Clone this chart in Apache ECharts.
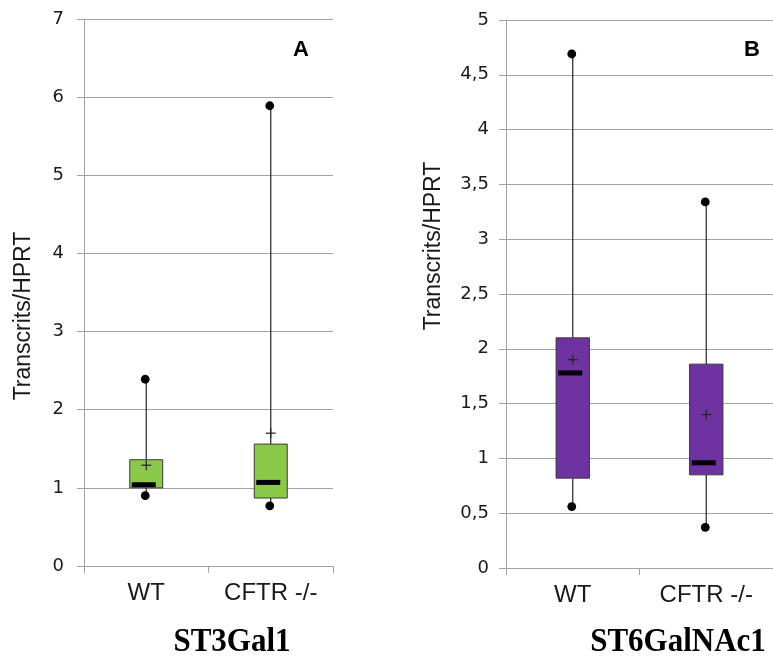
<!DOCTYPE html>
<html>
<head>
<meta charset="utf-8">
<script src="https://cdn.jsdelivr.net/npm/echarts@6/dist/echarts.min.js"></script>
<style>html,body{margin:0;padding:0;background:#fff}#c{width:773px;height:659px}</style>
</head>
<body>
<div id="c"></div>
<script>
// ---- data ----
var categories = ['WT', 'CFTR -/-'];
// Panel A : ST3Gal1
var st3Min    = [0.90, 0.77];
var st3Q1     = [1.00, 0.87];
var st3Median = [1.04, 1.07];
var st3Q3     = [1.36, 1.56];
var st3Max    = [2.39, 5.89];
var st3Mean   = [1.29, 1.70];
// Panel B : ST6GalNAc1
var st6Min    = [0.56, 0.37];
var st6Q1     = [0.82, 0.85];
var st6Median = [1.78, 0.96];
var st6Q3     = [2.10, 1.86];
var st6Max    = [4.69, 3.34];
var st6Mean   = [1.90, 1.40];
var yTicksA = [0, 1, 2, 3, 4, 5, 6, 7];
var yTicksB = [0, 0.5, 1, 1.5, 2, 2.5, 3, 3.5, 4, 4.5, 5];

function rows(mn, q1, md, q3, mx, me) {
  return categories.map(function (c, i) { return [i, mn[i], q1[i], md[i], q3[i], mx[i], me[i]]; });
}

function makeRender(fill, factor) {
  return function (params, api) {
    var i = api.value(0);
    var pMin = api.coord([i, api.value(1)]);
    var pQ1 = api.coord([i, api.value(2)]);
    var pMed = api.coord([i, api.value(3)]);
    var pQ3 = api.coord([i, api.value(4)]);
    var pMax = api.coord([i, api.value(5)]);
    var pMean = api.coord([i, api.value(6)]);
    var cx = pQ1[0];
    var bw = api.size([1, 0])[0] * factor;
    var lineStyle = { stroke: '#222', lineWidth: 1.2 };
    return {
      type: 'group',
      children: [
        { type: 'line', shape: { x1: cx, y1: pMax[1], x2: cx, y2: pQ3[1] }, style: lineStyle },
        { type: 'line', shape: { x1: cx, y1: pQ1[1], x2: cx, y2: pMin[1] }, style: lineStyle },
        { type: 'rect', shape: { x: cx - bw / 2, y: pQ3[1], width: bw, height: pQ1[1] - pQ3[1] },
          style: { fill: fill, stroke: '#3a3a3a', lineWidth: 1 } },
        { type: 'rect', shape: { x: cx - 14.5, y: pMed[1] - 2.5, width: 24, height: 5 }, style: { fill: '#000' } },
        { type: 'line', shape: { x1: cx - 5, y1: pMean[1], x2: cx + 5, y2: pMean[1] }, style: { stroke: '#222', lineWidth: 1.2 } },
        { type: 'line', shape: { x1: cx, y1: pMean[1] - 5, x2: cx, y2: pMean[1] + 5 }, style: { stroke: '#222', lineWidth: 1.2 } },
        { type: 'circle', shape: { cx: cx - 1, cy: pMax[1], r: 4.4 }, style: { fill: '#000' } },
        { type: 'circle', shape: { cx: cx - 1, cy: pMin[1], r: 4.4 }, style: { fill: '#000' } }
      ]
    };
  };
}

var gridColor = '#a3a3a3';
function yAxisCfg(gridIndex, ticks, interval, margin) {
  return {
    type: 'value', gridIndex: gridIndex, min: ticks[0], max: ticks[ticks.length - 1], interval: interval,
    axisLine: { show: true, lineStyle: { color: gridColor, width: 1 } },
    axisTick: { show: true, length: 7, lineStyle: { color: gridColor } },
    splitLine: { show: true, lineStyle: { color: gridColor, width: 1 } },
    axisLabel: { margin: margin, color: '#1a1a1a', fontFamily: 'DejaVu Sans', fontSize: 18,
      formatter: function (v) { return String(v).replace('.', ','); } }
  };
}
function xAxisCfg(gridIndex) {
  return {
    type: 'category', gridIndex: gridIndex, data: categories, boundaryGap: true,
    axisLine: { show: true, lineStyle: { color: gridColor, width: 1 } },
    axisTick: { show: true, length: 7, lineStyle: { color: gridColor } },
    axisLabel: { margin: 15, color: '#1a1a1a', fontFamily: 'Liberation Sans', fontSize: 24 }
  };
}

var chart = echarts.init(document.getElementById('c'), null, { renderer: 'canvas' });
chart.setOption({
  animation: false,
  backgroundColor: '#fff',
  grid: [
    { left: 84, top: 19, width: 249, height: 547 },
    { left: 506, top: 20, width: 278, height: 548 }
  ],
  xAxis: [xAxisCfg(0), xAxisCfg(1)],
  yAxis: [yAxisCfg(0, yTicksA, 1, 20), yAxisCfg(1, yTicksB, 0.5, 17)],
  series: [
    { type: 'custom', xAxisIndex: 0, yAxisIndex: 0, renderItem: makeRender('#8BC94B', 0.265),
      encode: { x: 0, y: [1, 2, 3, 4, 5, 6] },
      data: rows(st3Min, st3Q1, st3Median, st3Q3, st3Max, st3Mean) },
    { type: 'custom', xAxisIndex: 1, yAxisIndex: 1, renderItem: makeRender('#6E33A0', 0.25),
      encode: { x: 0, y: [1, 2, 3, 4, 5, 6] },
      data: rows(st6Min, st6Q1, st6Median, st6Q3, st6Max, st6Mean) }
  ],
  graphic: [
    { type: 'text', x: 24, y: 316, rotation: Math.PI / 2,
      style: { text: 'Transcrits/HPRT', font: '23px "Liberation Sans"', fill: '#1a1a1a', textAlign: 'center', textVerticalAlign: 'middle' } },
    { type: 'text', x: 434, y: 246, rotation: Math.PI / 2,
      style: { text: 'Transcrits/HPRT', font: '23px "Liberation Sans"', fill: '#1a1a1a', textAlign: 'center', textVerticalAlign: 'middle' } },
    { type: 'text', x: 301, y: 50,
      style: { text: 'A', font: 'bold 22px "Liberation Sans"', fill: '#000', textAlign: 'center', textVerticalAlign: 'middle' } },
    { type: 'text', x: 752, y: 50,
      style: { text: 'B', font: 'bold 22px "Liberation Sans"', fill: '#000', textAlign: 'center', textVerticalAlign: 'middle' } },
    { type: 'text', x: 232, y: 642, scaleY: 1.1,
      style: { text: 'ST3Gal1', font: 'bold 31px "Liberation Serif"', fill: '#000', textAlign: 'center', textVerticalAlign: 'middle' } },
    { type: 'text', x: 678, y: 642, scaleY: 1.1,
      style: { text: 'ST6GalNAc1', font: 'bold 31px "Liberation Serif"', fill: '#000', textAlign: 'center', textVerticalAlign: 'middle' } }
  ]
});
</script>
</body>
</html>
